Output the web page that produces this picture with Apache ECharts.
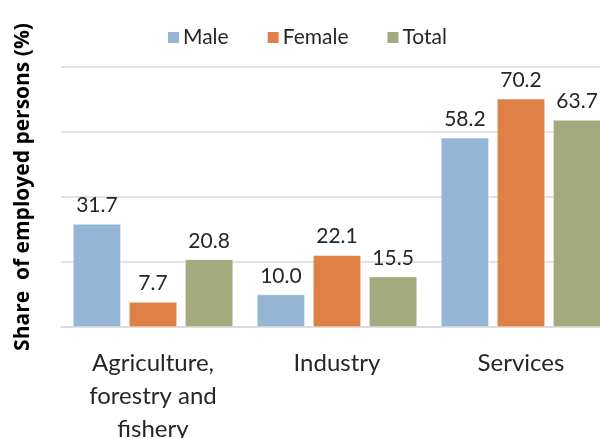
<!DOCTYPE html>
<html>
<head>
<meta charset="utf-8">
<script src="https://cdn.jsdelivr.net/npm/echarts@6/dist/echarts.min.js"></script>
<style>
  html, body { margin: 0; padding: 0; background: #fff; }
  #chart { width: 600px; height: 438px; }
</style>
</head>
<body>
<div id="chart"></div>
<script>
const categories = ['Agriculture,\nforestry and\nfishery', 'Industry', 'Services'];
const male = [31.7, 10.0, 58.2];
const female = [7.7, 22.1, 70.2];
const total = [20.8, 15.5, 63.7];

const font = 'Lato, "Open Sans", sans-serif';

const chart = echarts.init(document.getElementById('chart'), null, { renderer: 'canvas' });

const barLabel = {
    show: true,
    position: 'top',
    distance: 8,
    color: '#262626',
    fontSize: 21,
    fontFamily: font,
    formatter: (p) => p.value.toFixed(1)
};

const makeSeries = (name, data, color) => ({
    name: name,
    type: 'bar',
    data: data,
    barGap: '17%',
    barCategoryGap: '13%',
    itemStyle: { color: color, borderColor: '#fff', borderWidth: 0.5 },
    label: barLabel
});

chart.setOption({
    animation: false,
    grid: { left: 61, width: 552, top: 67, bottom: 111, outerBoundsMode: 'none', containLabel: false },
    legend: {
        top: 22,
        left: 161,
        itemWidth: 13,
        itemHeight: 13,
        itemGap: 37,
        icon: 'rect',
        textStyle: { color: '#262626', fontSize: 21, fontFamily: font, padding: [0, 0, 0, -2] },
        data: ['Male', 'Female', 'Total']
    },
    xAxis: {
        type: 'category',
        data: categories,
        axisLine: { lineStyle: { color: '#d9d9d9', width: 1.5 } },
        axisTick: { show: false },
        axisLabel: {
            color: '#262626',
            fontSize: 24,
            fontFamily: font,
            lineHeight: 33,
            margin: 20,
            interval: 0
        }
    },
    yAxis: {
        type: 'value',
        min: 0,
        max: 80,
        interval: 20,
        name: 'Share  of employed persons (%)',
        nameLocation: 'middle',
        nameGap: 27,
        nameTextStyle: {
            color: '#000', fontSize: 21, fontWeight: 'bold',
            fontFamily: '"Open Sans", sans-serif', padding: [0, 0, 0, 20]
        },
        axisLine: { show: false },
        axisTick: { show: false },
        axisLabel: { show: false },
        splitLine: { lineStyle: { color: '#d9d9d9', width: 1.5 } }
    },
    series: [
        makeSeries('Male', male, '#94b6d4'),
        makeSeries('Female', female, '#df8047'),
        makeSeries('Total', total, '#a3aa7d')
    ]
});
</script>
</body>
</html>
